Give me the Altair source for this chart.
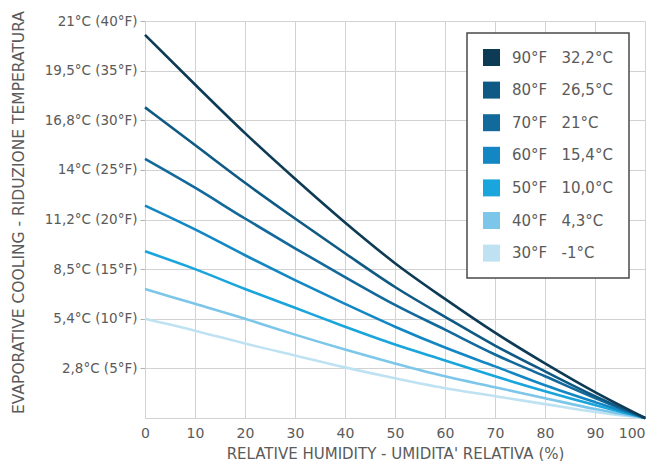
import altair as alt
import pandas as pd

# Relative humidity (%)
humidity = [0, 10, 20, 30, 40, 50, 60, 70, 80, 90, 100]

# Series: dry-bulb temperature labels (°F / °C)
series_f = ["90°F", "80°F", "70°F", "60°F", "50°F", "40°F", "30°F"]
series_c = ["32,2°C", "26,5°C", "21°C", "15,4°C", "10,0°C", "4,3°C", "-1°C"]

# Temperature reduction (°F) at each humidity value
cool_90 = [38.6, 33.6, 28.7, 24.1, 19.7, 15.6, 12.0, 8.6, 5.5, 2.6, 0.0]
cool_80 = [31.3, 27.5, 23.7, 20.1, 16.6, 13.2, 10.2, 7.3, 4.7, 2.2, 0.0]
cool_70 = [26.1, 23.2, 20.1, 17.1, 14.2, 11.4, 8.9, 6.4, 4.2, 2.0, 0.0]
cool_60 = [21.4, 19.0, 16.4, 13.9, 11.5, 9.2, 7.1, 5.2, 3.3, 1.6, 0.0]
cool_50 = [16.8, 15.0, 13.0, 11.1, 9.2, 7.4, 5.8, 4.2, 2.7, 1.3, 0.0]
cool_40 = [13.0, 11.5, 10.0, 8.4, 6.9, 5.5, 4.2, 3.1, 2.0, 0.9, 0.0]
cool_30 = [10.0, 8.8, 7.5, 6.3, 5.1, 4.0, 3.0, 2.2, 1.4, 0.6, 0.0]
all_series = [cool_90, cool_80, cool_70, cool_60, cool_50, cool_40, cool_30]

colors = ["#0d3b55", "#0f5a84", "#11699c", "#1287c3", "#1aa5dc", "#7cc6ea", "#bfe2f3"]

# Y axis tick labels
y_tick_values = [5, 10, 15, 20, 25, 30, 35, 40]
y_tick_labels = ["2,8°C (5°F)", "5,4°C (10°F)", "8,5°C (15°F)", "11,2°C (20°F)",
                 "14°C (25°F)", "16,8°C (30°F)", "19,5°C (35°F)", "21°C (40°F)"]

NB = "\u00a0"
series_labels = [f + NB * 3 + c for f, c in zip(series_f, series_c)]

rows = []
# lighter series first so the darker lines are drawn on top
for label, vals in reversed(list(zip(series_labels, all_series))):
    for h, v in zip(humidity, vals):
        rows.append({"rh": h, "t": v, "series": label})
df = pd.DataFrame(rows)

label_expr = " : ".join(
    f"datum.value == {v} ? '{l}'" for v, l in zip(y_tick_values, y_tick_labels)
) + " : ''"

FONT = "DejaVu Sans"
GRID = "#d2d2d2"
TXT = "#5a5a5a"

x_enc = alt.X("rh:Q",
              scale=alt.Scale(domain=[0, 100], nice=False),
              axis=alt.Axis(values=humidity, title="RELATIVE HUMIDITY - UMIDITA' RELATIVA (%)",
                            ticks=False, labelPadding=8, labelFlush=False,
                            labelAlign={"expr": "datum.value == 100 ? 'right' : 'center'"},
                            labelFont=FONT, labelFontSize=14, labelColor=TXT,
                            titleFont=FONT, titleFontSize=15, titleFontWeight="normal",
                            titleColor=TXT, titleY=43, titleBaseline="bottom",
                            grid=True, gridColor=GRID, domainColor=GRID))
y_enc = alt.Y("t:Q",
              scale=alt.Scale(domain=[0, 40], nice=False),
              axis=alt.Axis(values=y_tick_values, labelExpr=label_expr,
                            title="EVAPORATIVE COOLING - RIDUZIONE TEMPERATURA",
                            tickSize=5, tickColor="#b0b0b0", labelPadding=3,
                            labelFont=FONT, labelFontSize=13.5, labelColor=TXT,
                            titleFont=FONT, titleFontSize=15.5, titleFontWeight="normal",
                            titleColor=TXT, titleX=-127, titleY=191, titleBaseline="middle",
                            grid=True, gridColor=GRID, domainColor=GRID))

base = alt.Chart(df).encode(x=x_enc, y=y_enc)

# legend carrier: tiny filled squares at the common end point (hidden under the lines)
keys = base.mark_square(size=1, filled=True, opacity=1).encode(
    fill=alt.Fill("series:N",
                  scale=alt.Scale(domain=series_labels, range=colors),
                  sort=series_labels,
                  legend=alt.Legend(title=None, orient="none", legendX=322, legendY=12,
                                    symbolType="square", symbolSize=289, symbolStrokeWidth=0,
                                    symbolOpacity=1,
                                    labelFont=FONT, labelFontSize=15, labelColor=TXT,
                                    labelOffset=12, rowPadding=15.6, padding=16,
                                    strokeColor="#4a4a4a", fillColor="white")),
).transform_filter(alt.datum.rh == 100)

lines = base.mark_line(strokeWidth=2.6, interpolate="monotone").encode(
    stroke=alt.Stroke("series:N",
                      scale=alt.Scale(domain=series_labels, range=colors),
                      sort=series_labels, legend=None),
)

chart = alt.layer(keys, lines).properties(
    width=500, height=397,
    autosize=alt.AutoSizeParams(type="none"),
    padding={"left": 137, "top": 13, "right": 5, "bottom": 43},
).configure_view(stroke=None).configure_legend(strokeWidth=1.5)

chart.save("out.html", embed_options={"renderer": "svg", "actions": False})
